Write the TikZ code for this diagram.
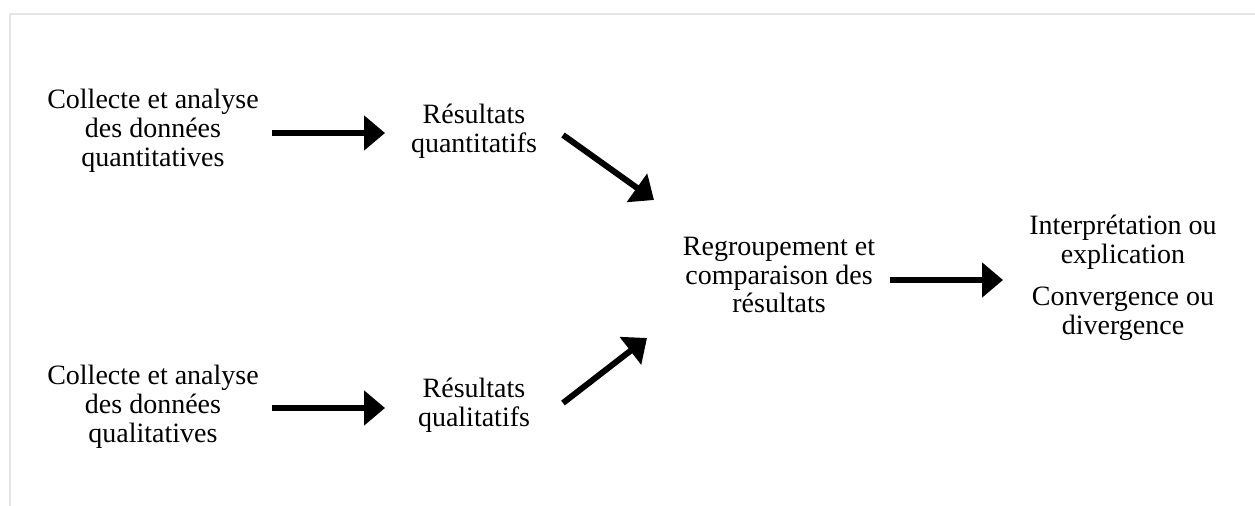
\documentclass[tikz,border=0pt]{standalone}
\usepackage{fontspec}
\setmainfont{Liberation Serif}
\usetikzlibrary{arrows.meta,calc}
\begin{document}
\begin{tikzpicture}[x=0.75pt,y=-0.75pt,
  lbl/.style={align=center,inner sep=0pt,font=\fontsize{21pt}{21.6pt}\selectfont},
  arr/.style={line width=4.5pt,-{Triangle[length=15.75pt,width=25.5pt]}}]
\useasboundingbox (0,0) rectangle (1255,506);
\draw[draw=black!10,line width=1.5pt] (1255,14) -- (10,14) -- (10,506);
\node[lbl] (A1) at (153,131) {Collecte et analyse\\des données\\quantitatives};
\node[lbl] (B1) at (474,131) {Résultats\\quantitatifs};
\node[lbl] (A2) at (153,407) {Collecte et analyse\\des données\\qualitatives};
\node[lbl] (B2) at (474,405) {Résultats\\qualitatifs};
\node[lbl] (C) at (779,275) {Regroupement et\\comparaison des\\résultats};
\node[lbl] (D) at (1123,278) {Interprétation ou\\explication\\[10pt]Convergence ou\\divergence};
\coordinate (t1) at ($(C.center)+(-125,-75)$);
\coordinate (t2) at ($(C.center)+(-132,63)$);
\draw[arr] ($(A1.center)+(119,2)$) -- ($(B1.center)+(-89,2)$);
\draw[arr] ($(A2.center)+(119,1)$) -- ($(B2.center)+(-89,3)$);
\draw[arr] ($(B1.center)+(89,4)$) -- (t1);
\draw[arr] ($(B2.center)+(89,-2)$) -- (t2);
\draw[arr] ($(C.center)+(111,5)$) -- ($(D.center)+(-120,2)$);
\end{tikzpicture}
\end{document}
